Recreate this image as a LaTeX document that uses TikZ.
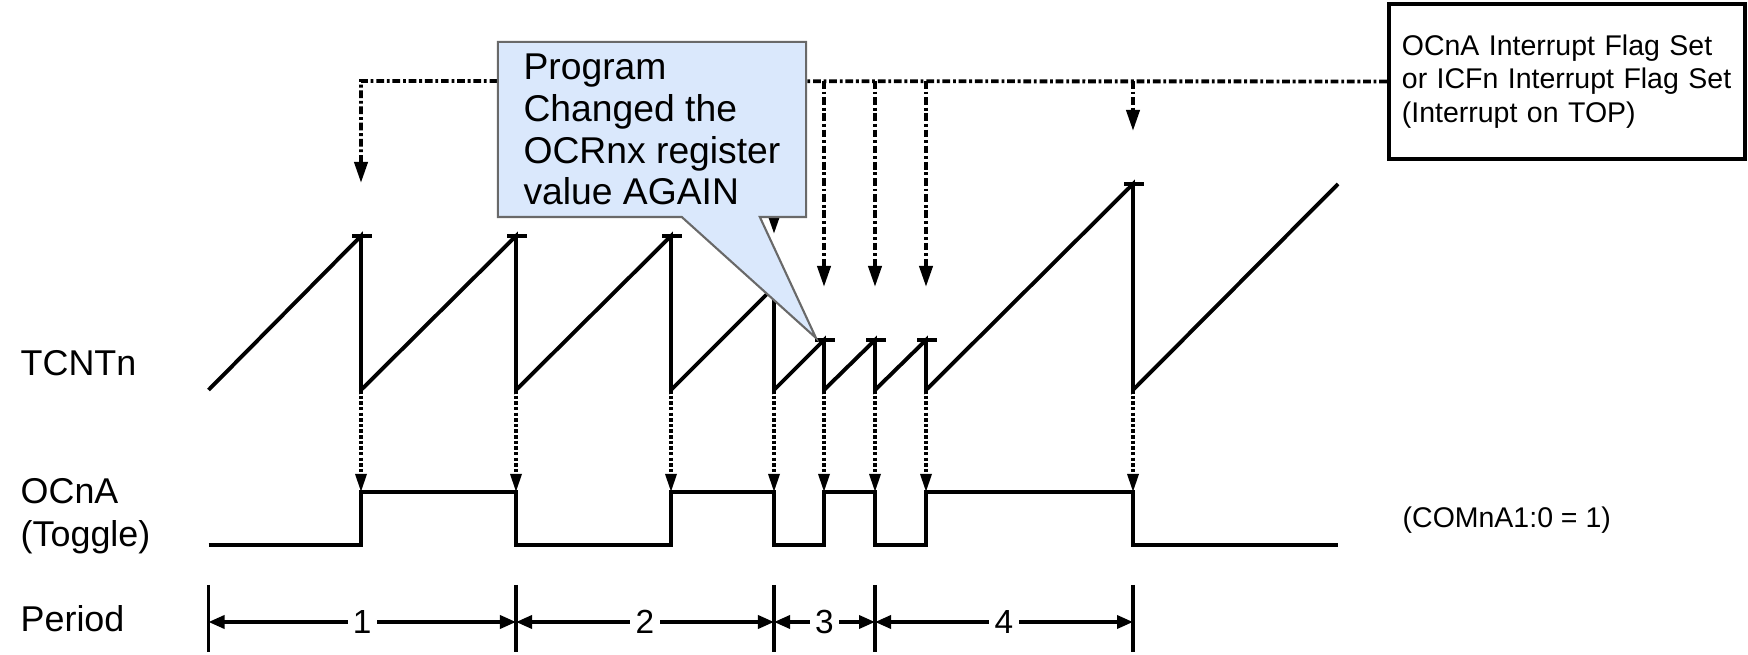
\documentclass[tikz,border=0pt]{standalone}
\usepackage{fontspec}
\setmainfont{Liberation Sans}
\usetikzlibrary{arrows.meta,shapes.callouts}
\definecolor{notefill}{RGB}{218,232,252}
\definecolor{noteedge}{RGB}{105,105,105}

\begin{document}
\begin{tikzpicture}
  [x=0.01cm, y=-0.01cm,
   wave/.style={line width=1.1pt},
   top mark/.style={line width=1.1pt},
   irq arrow/.style={line width=1.1pt, dash pattern=on 2.2pt off 0.8pt on 0.8pt off 0.8pt, -{Triangle[length=2.1mm,width=1.3mm]}},
   hit arrow/.style={line width=0.9pt, dash pattern=on 1pt off 0.6pt, -{Triangle[length=1.8mm,width=1.1mm]}},
   period arrow/.style={line width=1pt, {Triangle[length=1.6mm,width=1.3mm]}-{Triangle[length=1.6mm,width=1.3mm]}},
   row label/.style={anchor=west, align=left, inner sep=0pt, font=\fontsize{10.2}{12.2}\selectfont}]
  \useasboundingbox (0,0) rectangle (1748,655);

  \foreach \n/\x/\y in {1/361/236, 2/516/236, 3/671/236, 4/774/287, 5/824/340, 6/875/340, 7/926/340, 8/1133/184} {
    \coordinate (top\n) at (\x,\y);
    \coordinate (low\n) at (\x,390);
    \coordinate (hi\n) at (\x,492);
    \coordinate (lo\n) at (\x,545);
    \coordinate (flag\n) at (\x,\y-53);
  }
  \coordinate (tstart) at (208.5,390);
  \coordinate (tend) at (1338,184);
  \coordinate (ostart) at (208.5,545);
  \coordinate (oend) at (1338,545);
  \coordinate (irqstart) at (361,81);
  \coordinate (tip) at (816,338);

  \node[row label] (tcnt) at (20,363) {TCNTn};
  \node[row label] (ocna) at (20,516) {OCnA\\(Toggle)};
  \node[row label] (period) at (20,619) {Period};
  \node[anchor=west, inner sep=0pt, font=\fontsize{8.1}{10}\selectfont] (mode) at (1402,520) {(COMnA1:0 = 1)};
  \node[draw, line width=1.1pt, minimum height=1.55cm, text width=3.3cm, inner xsep=0.13cm, align=left,
        font=\fontsize{8.1}{9.6}\selectfont] (flagbox) at (1567,81.5)
        {OCnA Interrupt Flag Set\\or ICFn Interrupt Flag Set\\(Interrupt on TOP)};

  \draw[wave] (tstart) -- (top1) -- (low1) -- (top2) -- (low2) -- (top3) -- (low3) -- (top4) -- (low4)
    -- (top5) -- (low5) -- (top6) -- (low6) -- (top7) -- (low7) -- (top8) -- (low8) -- (tend);
  \foreach \n in {1,2,3,5,6,7,8}
    \draw[top mark] (top\n) ++(-9,0) -- ++(20,0);

  \draw[irq arrow] (flagbox.west) -- (irqstart) -- (flag1);
  \foreach \n in {4,5,6,7,8}
    \draw[irq arrow] (top\n |- irqstart) -- (flag\n);

  \foreach \n in {1,...,8}
    \draw[hit arrow] (low\n) -- (hi\n);

  \draw[wave] (ostart) -- (lo1) -- (hi1) -- (hi2) -- (lo2) -- (lo3) -- (hi3) -- (hi4) -- (lo4)
    -- (lo5) -- (hi5) -- (hi6) -- (lo6) -- (lo7) -- (hi7) -- (hi8) -- (lo8) -- (oend);

  \foreach \p/\x in {0/208.5, 1/516, 2/774, 3/875, 4/1133} {
    \coordinate (p\p) at (\x,622);
    \draw[line width=1pt] (\x,585) -- (\x,652);
  }
  \foreach \a/\b/\k in {0/1/1, 1/2/2, 2/3/3, 3/4/4}
    \draw[period arrow] (p\a) -- node[fill=white, inner sep=1.5pt, font=\fontsize{9.5}{10}\selectfont] (num\k) {\k} (p\b);

  \node[rectangle callout, draw=noteedge, fill=notefill, line width=0.6pt, callout absolute pointer={(tip)},
        callout pointer width=0.78cm, minimum width=3.08cm, minimum height=1.75cm, align=left,
        font=\fontsize{10.6}{11.9}\selectfont] (note) at (652,129.5)
        {Program\\Changed the\\OCRnx register\\value AGAIN};
\end{tikzpicture}
\end{document}
